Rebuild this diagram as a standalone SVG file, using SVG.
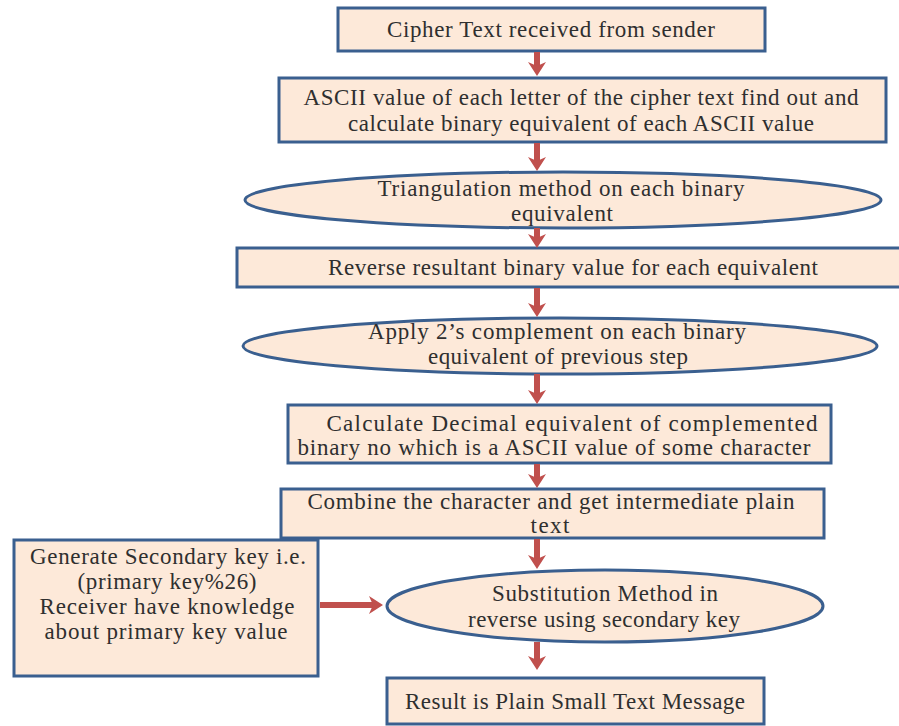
<svg xmlns="http://www.w3.org/2000/svg" width="899" height="726" viewBox="0 0 899 726" font-family="Liberation Serif, Times New Roman, serif" font-size="23">
<defs>
<style>
.n{fill:#fde9d9;stroke:#3a5f8f;stroke-width:3}
text{font-family:"Liberation Serif",serif;font-size:23px;fill:#2f2f2f;text-anchor:middle}
.c{stroke:#c0504d;stroke-width:6;fill:none;marker-end:url(#ah)}
</style>
<marker id="ah" viewBox="0 0 14 18" refX="6" refY="9" markerWidth="14" markerHeight="18" markerUnits="userSpaceOnUse" orient="auto">
<path d="M0,0 L14,9 L0,18 L4,9 z" fill="#c0504d"/>
</marker>
</defs>
<rect width="899" height="726" fill="#ffffff"/>
<g id="n1"><rect class="n" x="338" y="8" width="427" height="43"/>
<text x="551" y="37" textLength="328" lengthAdjust="spacing">Cipher Text received from sender</text></g>
<g id="n2"><rect class="n" x="279" y="78" width="607" height="64"/>
<text x="581" y="105" textLength="555" lengthAdjust="spacing">ASCII value of each letter of the cipher text find out and</text>
<text x="581" y="131" textLength="466" lengthAdjust="spacing">calculate binary equivalent of each ASCII value</text></g>
<g id="n3"><ellipse class="n" cx="563" cy="200" rx="318" ry="28"/>
<text x="561" y="196" textLength="367" lengthAdjust="spacing">Triangulation method on  each binary</text>
<text x="562" y="221" textLength="102" lengthAdjust="spacing">equivalent</text></g>
<g id="n4"><rect class="n" x="237" y="248" width="680" height="39"/>
<text x="573" y="275" textLength="490" lengthAdjust="spacing">Reverse resultant binary value for each equivalent</text></g>
<g id="n5"><ellipse class="n" cx="560" cy="346" rx="317" ry="28"/>
<text x="557" y="339" textLength="378" lengthAdjust="spacing">Apply 2’s complement  on each binary</text>
<text x="558" y="364" textLength="260" lengthAdjust="spacing">equivalent of previous step</text></g>
<g id="n6"><rect class="n" x="288" y="405" width="543" height="58"/>
<text x="572" y="431" textLength="491" lengthAdjust="spacing">Calculate Decimal equivalent of complemented</text>
<text x="554" y="455" textLength="513" lengthAdjust="spacing">binary no which is a ASCII value of some character</text></g>
<g id="n7"><rect class="n" x="281" y="489" width="543" height="49"/>
<text x="551" y="509" textLength="487" lengthAdjust="spacing">Combine the character and get intermediate plain</text>
<text x="550" y="533" textLength="39" lengthAdjust="spacing">text</text></g>
<g id="n8"><rect class="n" x="14" y="540" width="304" height="136"/>
<text x="168" y="564" textLength="276" lengthAdjust="spacing">Generate Secondary key i.e.</text>
<text x="167" y="589" textLength="179" lengthAdjust="spacing">(primary key%26)</text>
<text x="167" y="614" textLength="255" lengthAdjust="spacing">Receiver have knowledge</text>
<text x="166" y="639" textLength="243" lengthAdjust="spacing">about primary key value</text></g>
<g id="n9"><ellipse class="n" cx="605" cy="606" rx="218" ry="36"/>
<text x="605" y="601" textLength="226" lengthAdjust="spacing">Substitution Method in</text>
<text x="604" y="627" textLength="272" lengthAdjust="spacing">reverse using secondary key</text></g>
<g id="n10"><rect class="n" x="387" y="678" width="377" height="46"/>
<text x="575" y="709" textLength="340" lengthAdjust="spacing">Result is Plain Small Text Message</text></g>
<g id="connectors">
<line class="c" x1="537" y1="52" x2="537" y2="68"/>
<line class="c" x1="537" y1="143" x2="537" y2="163"/>
<line class="c" x1="537" y1="228" x2="537" y2="240"/>
<line class="c" x1="537" y1="288" x2="537" y2="309"/>
<line class="c" x1="537" y1="374" x2="537" y2="396"/>
<line class="c" x1="537" y1="464" x2="537" y2="480"/>
<line class="c" x1="537" y1="539" x2="537" y2="561"/>
<line class="c" x1="537" y1="642" x2="537" y2="662"/>
<line class="c" x1="320" y1="605" x2="375" y2="605"/>
</g>
</svg>
